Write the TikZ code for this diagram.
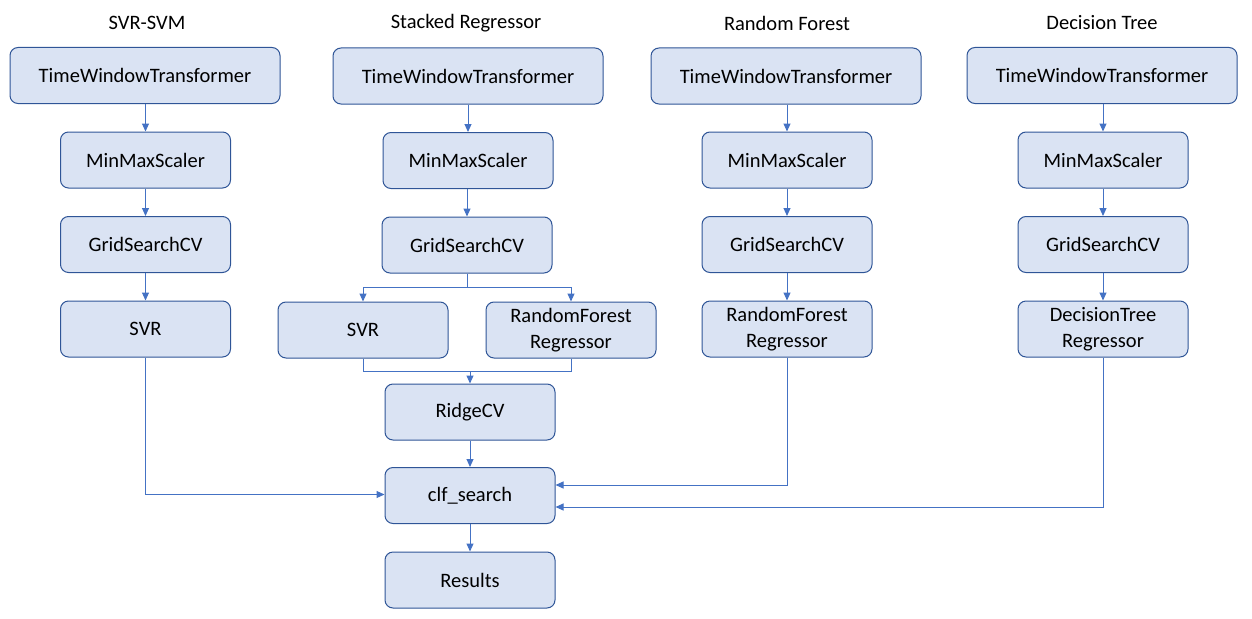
\documentclass[tikz,border=0pt]{standalone}
\usepackage{fontspec}
\setmainfont{Carlito}
\usetikzlibrary{arrows.meta}
\definecolor{boxfill}{HTML}{DAE3F3}
\definecolor{boxdraw}{HTML}{2F5597}
\definecolor{arr}{HTML}{4472C4}
\begin{document}
\begin{tikzpicture}[x=1pt,y=-1pt,
  box/.style={draw=boxdraw,fill=boxfill,line width=1pt,rounded corners=8pt,
    minimum width=170pt,minimum height=56pt,align=center,inner sep=0pt,
    font=\fontsize{20.5}{26}\selectfont},
  wide/.style={box,minimum width=270pt},
  title/.style={font=\fontsize{20.5}{26}\selectfont},
  conn/.style={draw=arr,line width=1pt,-{Triangle[length=8pt,width=7pt]}},
  plain/.style={draw=arr,line width=1pt}]
\useasboundingbox (0,0) rectangle (1252,618);
% column 1
\node[title] (t1) at (147,23) {SVR-SVM};
\node[wide] (a1) at (145,75.5) {TimeWindowTransformer};
\node[box] (a2) at (145.5,160) {MinMaxScaler};
\node[box] (a3) at (145.5,244.5) {GridSearchCV};
\node[box] (a4) at (145.5,329) {SVR};
% column 2
\node[title] (t2) at (466,23) {Stacked Regressor};
\node[wide] (b1) at (468,76) {TimeWindowTransformer};
\node[box] (b2) at (468,160.5) {MinMaxScaler};
\node[box] (b3) at (467,245) {GridSearchCV};
\node[box] (b4) at (363,330) {SVR};
\node[box] (b5) at (571,330) {RandomForest\\Regressor};
\node[box] (b6) at (470,412) {RidgeCV};
\node[box] (cs) at (470,495.5) {clf\_search};
\node[box] (res) at (470,580) {Results};
% column 3
\node[title] (t3) at (787,23) {Random Forest};
\node[wide] (c1) at (786,76) {TimeWindowTransformer};
\node[box] (c2) at (787,160) {MinMaxScaler};
\node[box] (c3) at (787,244.5) {GridSearchCV};
\node[box] (c4) at (787,329) {RandomForest\\Regressor};
% column 4
\node[title] (t4) at (1102,23) {Decision Tree};
\node[wide] (d1) at (1102,75.5) {TimeWindowTransformer};
\node[box] (d2) at (1103,160) {MinMaxScaler};
\node[box] (d3) at (1103,244.5) {GridSearchCV};
\node[box] (d4) at (1103,329) {DecisionTree\\Regressor};
% connectors
\draw[conn] (a1.south -| a2) -- (a2);
\draw[conn] (a2) -- (a3);
\draw[conn] (a3) -- (a4);
\draw[conn] (a4.south) |- ([yshift=1pt]cs.west);
\draw[conn] (b1.south -| b2) -- (b2);
\draw[conn] (b2.south -| b3) -- (b3);
\coordinate (split) at (467,287);
\draw[plain] (b3.south) -- (split);
\draw[conn] (split) -| (b4.north);
\draw[conn] (split) -| (b5.north);
\coordinate (merge) at (470,371);
\draw[plain] (b4.south) |- (merge);
\draw[plain] (b5.south) |- (merge);
\draw[conn] (merge) -- (b6.north);
\draw[conn] (b6) -- (cs);
\draw[conn] (cs) -- (res);
\draw[conn] (c1.south -| c2) -- (c2);
\draw[conn] (c2) -- (c3);
\draw[conn] (c3) -- (c4);
\draw[conn] (c4.south) |- ([yshift=10.5pt]cs.east);
\draw[conn] (d1.south -| d2) -- (d2);
\draw[conn] (d2) -- (d3);
\draw[conn] (d3) -- (d4);
\draw[conn] (d4.south) |- ([yshift=-11.5pt]cs.east);
\end{tikzpicture}
\end{document}
